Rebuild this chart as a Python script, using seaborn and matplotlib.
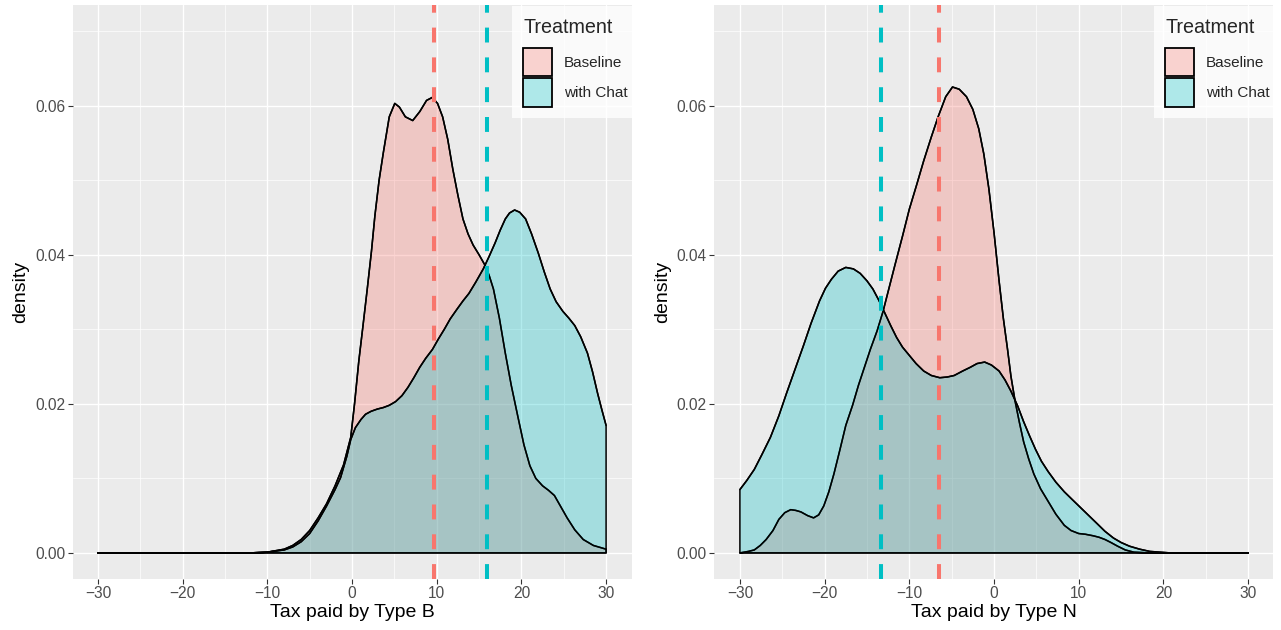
import numpy as np
import pandas as pd
import matplotlib
matplotlib.use("Agg")
import matplotlib.pyplot as plt
from matplotlib.patches import Patch
from matplotlib.ticker import MultipleLocator
import seaborn as sns

# ---------------- data ----------------
treatments = ["Baseline", "with Chat"]
colors = {"Baseline": "#F8766D", "with Chat": "#00BFC4"}

# Panel B: tax paid by Type B
b_base_x = [-30, -12, -10, -8, -7, -6, -5, -4, -3, -2, -1, -0.15, 0.3, 0.8, 1.3, 1.8, 2.3, 2.7, 3.2,
            3.7, 4.4, 5.05, 5.6, 6.3, 7.17, 8.0, 8.8, 9.48, 10.1, 10.7, 11.3, 11.9, 12.5, 13.1, 13.7,
            14.3, 15.0, 15.7, 16.2, 16.7, 17.4, 18.1, 18.8, 19.6, 20.3, 21.0, 21.7, 22.5, 23.2, 23.9,
            24.6, 25.4, 26.3, 27.3, 28.5, 30]
b_base_y = [0, 0, 0.0001, 0.0005, 0.001, 0.0018, 0.003, 0.0047, 0.0066, 0.0090, 0.0118, 0.0155, 0.020,
            0.0257, 0.0305, 0.0354, 0.0405, 0.0452, 0.0500, 0.0537, 0.0585, 0.0603, 0.0598, 0.0585,
            0.0580, 0.0592, 0.0607, 0.0611, 0.0603, 0.0585, 0.0555, 0.0515, 0.0480, 0.0448, 0.0428,
            0.0413, 0.0400, 0.0386, 0.0372, 0.0354, 0.0315, 0.0268, 0.0225, 0.0182, 0.0145, 0.0117,
            0.0100, 0.0090, 0.0084, 0.0077, 0.0063, 0.0047, 0.0031, 0.0018, 0.0010, 0.0005]
b_chat_x = [-30, -12, -10, -8, -7, -6, -5, -4, -3, -2, -1.35, -0.6, -0.15, 0.4, 1.06, 1.6, 2.26, 3.0,
            3.7, 4.4, 5.15, 5.9, 6.6, 7.3, 8.0, 8.7, 9.5, 10.2, 10.9, 11.6, 12.4, 13.1, 13.8, 14.6,
            15.5, 16.2, 16.9, 17.5, 18.1, 18.6, 19.2, 19.8, 20.5, 21.2, 22.0, 22.7, 23.4, 24.1, 24.9,
            25.6, 26.3, 27.0, 27.8, 28.4, 29.0, 29.5, 30]
b_chat_y = [0, 0, 0.0001, 0.0004, 0.0008, 0.0015, 0.0026, 0.0043, 0.0063, 0.0085, 0.0101, 0.0130,
            0.0152, 0.0168, 0.0179, 0.0186, 0.0190, 0.0193, 0.0195, 0.0198, 0.0203, 0.0211, 0.0222,
            0.0235, 0.0249, 0.0261, 0.0273, 0.0287, 0.0300, 0.0314, 0.0327, 0.0338, 0.0348, 0.0363,
            0.0381, 0.0398, 0.0416, 0.0433, 0.0448, 0.0456, 0.0460, 0.0457, 0.0448, 0.0428, 0.0402,
            0.0377, 0.0354, 0.0337, 0.0324, 0.0315, 0.0305, 0.0290, 0.0268, 0.0243, 0.0214, 0.0192,
            0.0171]

# Panel N: tax paid by Type N
n_base_x = [-30, -29, -28.3, -27.6, -26.9, -26.1, -25.4, -24.7, -24.0, -23.4, -22.8, -22.0, -21.3,
            -20.7, -20.1, -19.5, -18.9, -18.2, -17.5, -16.7, -16.0, -15.3, -14.6, -13.8, -13.1, -12.4,
            -11.7, -10.8, -10.0, -9.1, -8.3, -7.4, -6.6, -5.7, -4.9, -4.1, -3.25, -2.5, -1.8, -1.2,
            -0.6, 0, 0.6, 1.1, 1.6, 2.0, 2.5, 3.0, 3.5, 4.1, 4.7, 5.5, 6.4, 7.3, 8.3, 9.1, 10.0, 10.8,
            11.7, 12.4, 13.1, 13.8, 14.6, 15.5, 16.5, 18.4, 30]
n_base_y = [0, 0.0002, 0.0004, 0.0010, 0.0018, 0.0030, 0.0045, 0.0054, 0.0058, 0.0057, 0.0055, 0.0050,
            0.0047, 0.0051, 0.0063, 0.0082, 0.0106, 0.0138, 0.0171, 0.0198, 0.0225, 0.0249, 0.0273,
            0.0298, 0.0324, 0.0355, 0.0386, 0.0425, 0.0461, 0.0495, 0.0526, 0.0558, 0.0585, 0.0612,
            0.0625, 0.0622, 0.0612, 0.0595, 0.0569, 0.0535, 0.0488, 0.0430, 0.0365, 0.0315, 0.0273,
            0.0237, 0.0203, 0.0175, 0.0149, 0.0126, 0.0106, 0.0086, 0.0069, 0.0052, 0.0037, 0.0030,
            0.0026, 0.0025, 0.0023, 0.0021, 0.0018, 0.0014, 0.0009, 0.0004, 0.0001, 0, 0]
n_chat_x = [-30, -29.2, -28.3, -27.4, -26.4, -25.4, -24.5, -23.5, -22.5, -21.6, -20.6, -19.9, -19.2,
            -18.4, -17.5, -16.6, -15.8, -15.0, -14.3, -13.6, -12.9, -12.2, -11.5, -10.8, -10.0, -9.2,
            -8.3, -7.4, -6.4, -5.5, -4.7, -3.7, -2.8, -2.0, -1.1, -0.3, 0.6, 1.3, 2.0, 2.8, 3.5, 4.2,
            4.9, 5.6, 6.4, 7.3, 8.3, 9.2, 10.2, 11.2, 12.2, 13.1, 14.1, 15.0, 16.0, 17.2, 18.4, 20.8, 30]
n_chat_y = [0.0085, 0.0097, 0.0112, 0.0132, 0.0155, 0.0184, 0.0214, 0.0246, 0.0278, 0.0308, 0.0338,
            0.0355, 0.0367, 0.0378, 0.0383, 0.0381, 0.0375, 0.0365, 0.0354, 0.0339, 0.0322, 0.0305,
            0.0289, 0.0276, 0.0265, 0.0254, 0.0244, 0.0238, 0.0235, 0.0236, 0.0238, 0.0244, 0.0249,
            0.0254, 0.0256, 0.0252, 0.0244, 0.0232, 0.0217, 0.0197, 0.0176, 0.0157, 0.0139, 0.0123,
            0.0109, 0.0095, 0.0082, 0.0072, 0.0061, 0.0050, 0.0039, 0.0029, 0.0020, 0.0014, 0.0009,
            0.0005, 0.0002, 0, 0]

means_b = {"Baseline": 9.7, "with Chat": 15.95}
means_n = {"Baseline": -6.5, "with Chat": -13.35}

x_ticks = [-30, -20, -10, 0, 10, 20, 30]
y_ticks = [0.00, 0.02, 0.04, 0.06]
y_tick_labels = ["0.00", "0.02", "0.04", "0.06"]

# ---------------- style ----------------
sns.set_theme(style="darkgrid", rc={
    "axes.facecolor": "#EBEBEB",
    "grid.color": "white",
    "axes.edgecolor": "none",
    "xtick.color": "#333333",
    "ytick.color": "#333333",
    "xtick.labelcolor": "#4D4D4D",
    "ytick.labelcolor": "#4D4D4D",
})
plt.rcParams["font.family"] = ["Liberation Sans", "DejaVu Sans"]

fig = plt.figure(figsize=(12.81, 6.30), dpi=100)
W, H = 1281, 630
axes = [fig.add_axes([72.5 / W, 1 - 579 / H, 559 / W, 574 / H]),
        fig.add_axes([714.5 / W, 1 - 579 / H, 559 / W, 574 / H])]

panels = [
    (axes[0], {"Baseline": (b_base_x, b_base_y), "with Chat": (b_chat_x, b_chat_y)}, means_b,
     "Tax paid by Type B"),
    (axes[1], {"Baseline": (n_base_x, n_base_y), "with Chat": (n_chat_x, n_chat_y)}, means_n,
     "Tax paid by Type N"),
]

for ax, curves, means, xlabel in panels:
    for t in treatments:
        xs, ys = curves[t]
        df = pd.DataFrame({"x": xs, "y": ys})
        rgba = matplotlib.colors.to_rgba(colors[t], 0.3)
        # closed polygon: curve plus base (full outline as in the reference)
        px = list(xs) + [xs[-1], xs[0]]
        py = list(ys) + [0, 0]
        ax.fill(px, py, facecolor=rgba, edgecolor="black", linewidth=1.1, zorder=2,
                joinstyle="round")
        sns.lineplot(data=df, x="x", y="y", ax=ax, color="black", linewidth=1.1,
                     legend=False, zorder=3, sort=False)
    for t in treatments:
        ax.axvline(means[t], color=colors[t], linewidth=2.9, linestyle=(0, (3.7, 3.7)), zorder=4)

    ax.set_xlim(-33, 33)
    ax.set_ylim(-0.0035, 0.0735)
    ax.set_xticks(x_ticks)
    ax.set_xticklabels([str(v).replace("-", "\u2212") for v in x_ticks])
    ax.set_yticks(y_ticks)
    ax.set_yticklabels(y_tick_labels)
    ax.xaxis.set_minor_locator(MultipleLocator(5))
    ax.yaxis.set_minor_locator(MultipleLocator(0.01))
    ax.grid(which="major", color="white", linewidth=1.0)
    ax.grid(which="minor", color="white", linewidth=0.5)
    ax.tick_params(axis="both", which="major", length=3.4, width=0.8, labelsize=11.2,
                   pad=2, bottom=True, left=True)
    ax.tick_params(axis="both", which="minor", length=0)
    for s in ax.spines.values():
        s.set_visible(False)
    ax.set_xlabel(xlabel, fontsize=14.0, color="black", labelpad=2)
    ax.set_ylabel("density", fontsize=14.0, color="black", labelpad=4)

    handles = [Patch(facecolor=matplotlib.colors.to_rgba(colors[t], 0.3), edgecolor="black",
                     linewidth=1.3, label=t) for t in treatments]
    leg = ax.legend(handles=handles, title="Treatment", loc="upper right",
                    bbox_to_anchor=(1.0 + 7.5 / 559, 0.998), borderaxespad=0, frameon=True,
                    fontsize=11.0, title_fontsize=14.2, handlelength=1.9, handleheight=2.45,
                    labelspacing=0.13, handletextpad=0.76, borderpad=0.75)
    leg.get_frame().set_facecolor("white")
    leg.get_frame().set_edgecolor("none")
    leg.get_frame().set_boxstyle("square", pad=0)
    leg._legend_box.align = "left"
    leg._legend_box.sep = 8.5
    leg.set_zorder(10)

fig.savefig("out.png", dpi=100)
